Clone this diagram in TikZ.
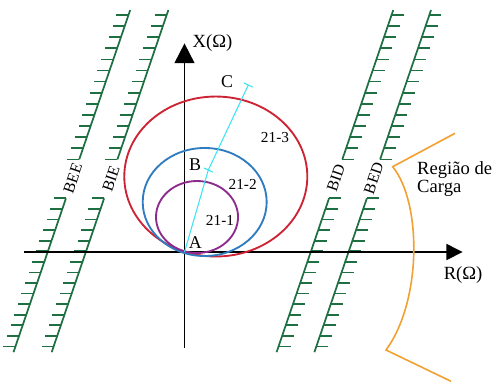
\documentclass[tikz,border=0pt]{standalone}
\usepackage{fontspec}
\setmainfont{Liberation Serif}
\usetikzlibrary{arrows.meta, calc, positioning}
\definecolor{zGreen}{HTML}{1E7042}
\definecolor{zRed}{HTML}{CC2435}
\definecolor{zBlue}{HTML}{2F7CC0}
\definecolor{zPurple}{HTML}{8E2C8E}
\definecolor{zCyan}{HTML}{3DE3F2}
\definecolor{zOrange}{HTML}{F2A030}
\tikzset{
  axisline/.style = {line width=1.4pt, black},
  barline/.style  = {zGreen, line width=1.3pt},
  barlbl/.style   = {font=\fontsize{12}{12}\selectfont, rotate=71.2, inner sep=0pt},
  ring1/.style    = {zPurple, line width=1.4pt},
  ring2/.style    = {zBlue,   line width=1.4pt},
  ring3/.style    = {zRed,    line width=1.4pt},
  chord/.style    = {zCyan,   line width=0.8pt},
  loadline/.style = {zOrange, line width=1.2pt},
  lbl/.style      = {font=\fontsize{13.5}{14}\selectfont},
  axlbl/.style    = {font=\fontsize{14}{14}\selectfont},
  zlbl/.style     = {font=\fontsize{11.5}{12}\selectfont},
}
\begin{document}
\begin{tikzpicture}[x=1cm,y=1cm]
  \useasboundingbox (-4.881,-3.413) rectangle (8.241,6.667);
  \newcommand{\zoneline}[4]{%
    \draw[barline] ({#1+0.341*2.45},2.45) -- ({#1+0.341*6.40},6.40);
    \draw[barline] ({#1-0.341*2.65},-2.65) -- ({#1+0.341*1.42},1.42);
    \foreach \k in {0,...,13}{
      \pgfmathsetmacro\yy{2.45+0.294*\k}
      \draw[barline] ({#1+0.341*\yy},\yy) -- ++({#2*0.32},0);}
    \foreach \k in {0,...,14}{
      \pgfmathsetmacro\yy{1.42-0.28*\k}
      \draw[barline] ({#1+0.341*\yy},\yy) -- ++({#2*0.32},0);}
    \node[barlbl] (#4) at ({#1+0.341*1.95},1.95) {#3};}
  % protection zones
  \zoneline{-3.62}{-1}{BEE}{bee}
  \zoneline{-2.61}{-1}{BIE}{bie}
  \zoneline{3.34}{1}{BID}{bid}
  \zoneline{4.34}{1}{BED}{bed}
  % axes
  \coordinate (O) at (0,0);
  \coordinate (xstart) at (-4.25,0);
  \coordinate (xend) at (7.36,0);
  \coordinate (ystart) at (0,-2.54);
  \coordinate (yend) at (0,5.52);
  \draw[axisline, -{Triangle[length=4.3mm,width=4.2mm]}] (xstart) -- (xend);
  \draw[axisline, -{Triangle[length=5.2mm,width=5.2mm]}] (ystart) -- (yend);
  \node[axlbl] (xlbl) at (0.74,5.52) {X(Ω)};
  \node[axlbl] (rlbl) at (7.37,-0.61) {R(Ω)};
  % zones 21
  \draw[ring3] (0.828,1.997) ellipse [x radius=2.421, y radius=2.116];
  \draw[ring2] (0.534,1.323) ellipse [x radius=1.640, y radius=1.429];
  \draw[ring1] (0.331,0.926) ellipse [x radius=1.085, y radius=0.952];
  \node[zlbl] (r3lbl) at (2.394,3.042) {21-3};
  \node[zlbl] (r2lbl) at (1.540,1.799) {21-2};
  \node[zlbl] (r1lbl) at (0.939,0.828) {21-1};
  % reach line
  \coordinate (A) at (O);
  \coordinate (B) at (0.630,2.169);
  \coordinate (C) at (1.688,4.418);
  \draw[chord] (A) -- (B) -- (C);
  \draw[chord] ($(B)!0.13cm!90:(C)$) -- ($(B)!0.13cm!-90:(C)$);
  \draw[chord] ($(C)!0.13cm!90:(B)$) -- ($(C)!0.13cm!-90:(B)$);
  \node[lbl] (albl) at (0.29,0.24) {A};
  \node[lbl] (blbl) at (0.28,2.30) {B};
  \node[lbl] (clbl) at (1.13,4.50) {C};
  % load region
  \coordinate (L1) at (7.156,3.140);
  \coordinate (L2) at (5.508,2.257);
  \coordinate (L3) at (5.331,-2.593);
  \coordinate (L4) at (7.05,-3.42);
  \draw[loadline] (L1) -- (L2) .. controls (6.28,1.3) and (6.28,-1.3) .. (L3) -- (L4);
  \node[anchor=west, align=left, inner sep=0pt, font=\fontsize{14}{14}\selectfont]
    (carga) at (6.15,1.93) {Região de\\Carga};
\end{tikzpicture}
\end{document}
